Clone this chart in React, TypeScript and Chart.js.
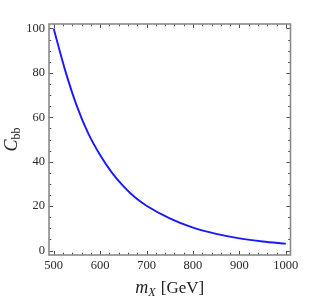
import React, { useEffect, useRef } from "react";
import { Chart, registerables } from "chart.js";

Chart.register(...registerables);

// Data
const massValues = [500, 525, 550, 575, 600, 625, 650, 675, 700, 750, 800, 850, 900, 950, 1000];
const cbbValues = [100, 81, 65, 52.5, 43, 35.2, 29, 24, 20.2, 14.5, 10.3, 7.5, 5.5, 4.1, 3.1];
const xTickValues = [500, 600, 700, 800, 900, 1000];
const yTickValues = [0, 20, 40, 60, 80, 100];
const xMinorStep = 20;
const yMinorStep = 5;
const xMin = 490;
const xMax = 1010;
const yMin = -2;
const yMax = 102;

const SERIF = "'Liberation Serif', 'DejaVu Serif', serif";

const framePlugin = {
  id: "mathematicaFrame",
  afterDraw(chart: any) {
    const { ctx, chartArea, scales } = chart;
    const { left, right, top, bottom } = chartArea;
    const xs = scales.x;
    const ys = scales.y;
    ctx.save();

    // ticks (inward, on all four sides)
    ctx.strokeStyle = "#222";
    ctx.lineWidth = 0.8;
    const majorLen = 4;
    const minorLen = 2.3;
    ctx.beginPath();
    for (let v = xTickValues[0]; v <= xTickValues[xTickValues.length - 1] + 1e-6; v += xMinorStep) {
      const isMajor = xTickValues.some((t) => Math.abs(t - v) < 1e-6);
      const len = isMajor ? majorLen : minorLen;
      const px = Math.round(xs.getPixelForValue(v)) + 0.5;
      ctx.moveTo(px, bottom);
      ctx.lineTo(px, bottom - len);
      ctx.moveTo(px, top);
      ctx.lineTo(px, top + len);
    }
    for (let v = yTickValues[0]; v <= yTickValues[yTickValues.length - 1] + 1e-6; v += yMinorStep) {
      const isMajor = yTickValues.some((t) => Math.abs(t - v) < 1e-6);
      const len = isMajor ? majorLen : minorLen;
      const py = Math.round(ys.getPixelForValue(v)) + 0.5;
      ctx.moveTo(left, py);
      ctx.lineTo(left + len, py);
      ctx.moveTo(right, py);
      ctx.lineTo(right - len, py);
    }
    ctx.stroke();

    // frame
    ctx.strokeStyle = "#8a8a8a";
    ctx.lineWidth = 1.6;
    ctx.strokeRect(left, top, right - left, bottom - top);

    // x axis title: m_X [GeV]
    ctx.fillStyle = "#222";
    ctx.textBaseline = "alphabetic";
    const xTitleY = 293;
    const cx = (left + right) / 2;
    const fMain = "italic 18px " + SERIF;
    const fSub = "italic 12px " + SERIF;
    const fRoman = "17px " + SERIF;
    ctx.font = fMain;
    const wM = ctx.measureText("m").width;
    ctx.font = fSub;
    const wX = ctx.measureText("X").width;
    ctx.font = fRoman;
    const wG = ctx.measureText(" [GeV]").width;
    let sx = cx - (wM + wX + 1 + wG) / 2;
    ctx.textAlign = "left";
    ctx.font = fMain;
    ctx.fillText("m", sx, xTitleY);
    sx += wM;
    ctx.font = fSub;
    ctx.fillText("X", sx, xTitleY + 3);
    sx += wX + 1;
    ctx.font = fRoman;
    ctx.fillText(" [GeV]", sx, xTitleY);

    // y axis title: C_bb (rotated)
    const cy = (top + bottom) / 2;
    ctx.save();
    ctx.translate(17, cy);
    ctx.rotate(-Math.PI / 2);
    const fC = "italic 18px " + SERIF;
    const fBB = "12px " + SERIF;
    ctx.font = fC;
    const wC = ctx.measureText("C").width;
    ctx.font = fBB;
    const wBB = ctx.measureText("bb").width;
    let ty = -(wC + wBB) / 2;
    ctx.font = fC;
    ctx.fillText("C", ty, 0);
    ty += wC;
    ctx.font = fBB;
    ctx.fillText("bb", ty, 3);
    ctx.restore();

    ctx.restore();
  },
};

export default function App() {
  const canvasRef = useRef<HTMLCanvasElement | null>(null);

  useEffect(() => {
    const canvas = canvasRef.current;
    if (!canvas) return;
    const points = massValues.map((m, i) => ({ x: m, y: cbbValues[i] }));
    const chart = new Chart(canvas, {
      type: "line",
      data: {
        datasets: [
          {
            data: points,
            borderColor: "rgb(25,25,255)",
            borderWidth: 1.9,
            pointRadius: 0,
            fill: false,
            cubicInterpolationMode: "monotone",
          },
        ],
      },
      options: {
        animation: false,
        responsive: false,
        maintainAspectRatio: false,
        devicePixelRatio: 1,
        layout: { padding: { top: 24, right: 25.5, left: 0, bottom: 0 } },
        plugins: {
          legend: { display: false },
          tooltip: { enabled: false },
          title: { display: false },
        },
        scales: {
          x: {
            type: "linear",
            min: xMin,
            max: xMax,
            grid: { display: false, drawTicks: false },
            border: { display: false },
            afterBuildTicks: (scale: any) => {
              scale.ticks = xTickValues.map((v) => ({ value: v }));
            },
            afterFit: (scale: any) => {
              scale.height = 42;
            },
            ticks: {
              padding: 3,
              color: "#2a2a2a",
              font: { family: SERIF, size: 12.5 },
              maxRotation: 0,
              autoSkip: false,
              callback: (v: any) => String(v),
            },
          },
          y: {
            type: "linear",
            min: yMin,
            max: yMax,
            grid: { display: false, drawTicks: false },
            border: { display: false },
            afterBuildTicks: (scale: any) => {
              scale.ticks = yTickValues.map((v) => ({ value: v }));
            },
            afterFit: (scale: any) => {
              scale.width = 49;
            },
            ticks: {
              padding: 4,
              color: "#2a2a2a",
              font: { family: SERIF, size: 12.5 },
              autoSkip: false,
              callback: (v: any) => String(v),
            },
          },
        },
      },
      plugins: [framePlugin],
    });
    return () => chart.destroy();
  }, []);

  return (
    <div style={{ position: "fixed", left: 0, top: 0, width: 316, height: 297, background: "#fff" }}>
      <canvas ref={canvasRef} width={316} height={297} style={{ width: 316, height: 297, display: "block" }} />
    </div>
  );
}
